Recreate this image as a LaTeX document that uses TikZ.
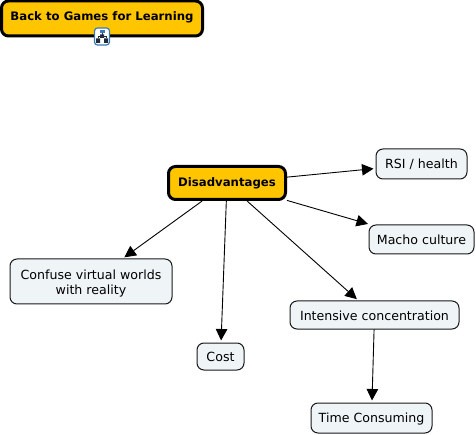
\documentclass[tikz,border=0pt]{standalone}
\usepackage{fontspec}
\setmainfont{DejaVu Sans}
\usetikzlibrary{arrows.meta}
\definecolor{gold}{HTML}{FFC600}
\definecolor{pale}{HTML}{EFF4F6}
\definecolor{iconblue}{HTML}{3A78B8}
\definecolor{icondark}{HTML}{202A3A}
\tikzset{
  x=1pt,y=-1pt,
  concept/.style={draw=black!90,line width=1pt,fill=pale,rounded corners=7pt,inner sep=0pt,align=center,text=black,font=\fontsize{12.6}{14.7}\selectfont},
  single/.style={text height=10pt,text depth=0pt},
  head/.style={draw=black,line width=3pt,fill=gold,rounded corners=7pt,inner sep=0pt,align=center,text=black,font=\fontsize{11.7}{15}\selectfont\bfseries},
  conn/.style={draw=black,line width=0.9pt,-{Triangle[length=11.5pt,width=11.5pt]},shorten >=2pt},
}
\begin{document}
\begin{tikzpicture}
\useasboundingbox (0,0) rectangle (476,435);
\node[head,minimum width=201pt,minimum height=35pt,text height=9pt,text depth=5pt] (back) at (102,18.5) {Back to Games for Learning};
\node[head,minimum width=117pt,minimum height=33pt,text height=9pt,text depth=1pt] (dis) at (227,183) {Disadvantages};
\node[concept,single,minimum width=91pt,minimum height=30pt] (rsi) at (421.5,164) {RSI / health};
\node[concept,single,minimum width=105pt,minimum height=29pt] (macho) at (421.5,239.5) {Macho culture};
\node[concept,minimum width=162pt,minimum height=45pt] (confuse) at (91,281.5) {\rule{0pt}{13.2pt}Confuse virtual worlds\ \\with reality};
\node[concept,single,minimum width=47pt,minimum height=27pt] (cost) at (220.5,356.5) {Cost};
\node[concept,single,minimum width=169pt,minimum height=28pt] (intense) at (374.5,315) {Intensive concentration};
\node[concept,single,minimum width=121pt,minimum height=30pt,text height=9.5pt] (time) at (371.5,418) {Time Consuming};
\draw[conn] (dis) -- (rsi);
\draw[conn] (dis) -- (macho);
\draw[conn] (dis) -- (confuse);
\draw[conn] (dis) -- (cost);
\draw[conn] (dis) -- (intense);
\draw[conn] (intense) -- (time);
% hierarchy icon
\node[draw=iconblue,line width=1.2pt,fill=white,rounded corners=3pt,minimum width=15pt,minimum height=17pt,inner sep=0pt] (icon) at (102,36.5) {};
\fill[iconblue] (99.5,30) rectangle (104.5,33.5);
\fill[icondark] (96,38.5) rectangle (100,43) (104,38.5) rectangle (108,43) (100,34.5) rectangle (104,38);
\draw[icondark,line width=0.9pt] (102,33.5) -- (102,36) (98,38.5) -- (98,36) -- (106,36) -- (106,38.5);
\end{tikzpicture}
\end{document}
